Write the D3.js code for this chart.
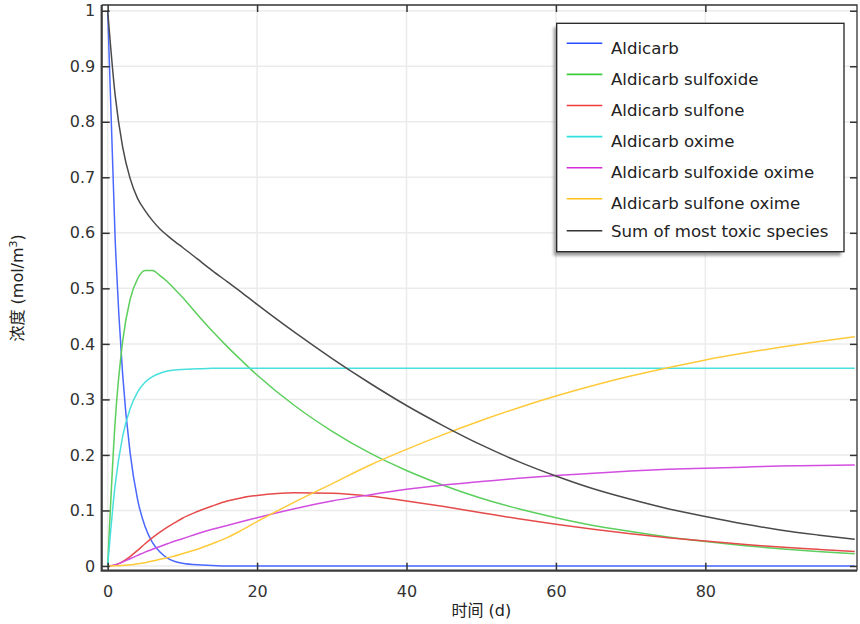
<!DOCTYPE html>
<html>
<head>
<meta charset="utf-8">
<script src="https://cdn.jsdelivr.net/npm/d3@7"></script>
<style>
  body { margin: 0; background: #fff; }
  svg { display: block; font-family: "DejaVu Sans", "Noto Sans CJK SC", sans-serif; }
</style>
</head>
<body>
<div id="chart"></div>
<script>
// time in days
const times = [0, 1, 2, 3, 4, 5, 6, 7, 8, 9, 10, 12, 14, 16, 18, 20, 25, 30, 35, 40, 45, 50, 55, 60, 65, 70, 75, 80, 85, 90, 95, 100];

// concentrations (mol/m3)
const aldicarb = [1, 0.589, 0.346, 0.204, 0.12, 0.071, 0.042, 0.025, 0.014, 0.008, 0.005, 0.002, 0.001, 0, 0, 0, 0, 0, 0, 0, 0, 0, 0, 0, 0, 0, 0, 0, 0, 0, 0, 0];
const sulfoxide = [0, 0.26, 0.404, 0.48, 0.517, 0.532, 0.532, 0.523, 0.512, 0.498, 0.484, 0.453, 0.423, 0.395, 0.369, 0.344, 0.289, 0.243, 0.204, 0.172, 0.145, 0.122, 0.103, 0.087, 0.073, 0.062, 0.052, 0.044, 0.037, 0.031, 0.026, 0.022];
const sulfone = [0, 0.002, 0.008, 0.017, 0.028, 0.04, 0.051, 0.061, 0.07, 0.078, 0.086, 0.098, 0.108, 0.117, 0.123, 0.127, 0.132, 0.131, 0.126, 0.117, 0.107, 0.096, 0.085, 0.075, 0.066, 0.058, 0.051, 0.045, 0.039, 0.034, 0.03, 0.026];
const oxime = [0, 0.146, 0.233, 0.283, 0.313, 0.331, 0.341, 0.347, 0.351, 0.353, 0.354, 0.355, 0.356, 0.356, 0.356, 0.356, 0.356, 0.356, 0.356, 0.356, 0.356, 0.356, 0.356, 0.356, 0.356, 0.356, 0.356, 0.356, 0.356, 0.356, 0.356, 0.356];
const sulfoxideOxime = [0, 0.002, 0.007, 0.013, 0.019, 0.025, 0.03, 0.035, 0.04, 0.045, 0.049, 0.058, 0.066, 0.073, 0.08, 0.087, 0.103, 0.117, 0.128, 0.138, 0.146, 0.152, 0.158, 0.163, 0.167, 0.171, 0.174, 0.176, 0.178, 0.18, 0.181, 0.182];
const sulfoneOxime = [0, 0.0002, 0.001, 0.002, 0.004, 0.006, 0.009, 0.012, 0.015, 0.018, 0.022, 0.03, 0.04, 0.051, 0.065, 0.08, 0.115, 0.148, 0.181, 0.21, 0.237, 0.262, 0.285, 0.306, 0.325, 0.342, 0.357, 0.371, 0.383, 0.394, 0.404, 0.413];
const toxicSum = [1, 0.848, 0.755, 0.698, 0.662, 0.64, 0.622, 0.607, 0.595, 0.584, 0.574, 0.553, 0.532, 0.512, 0.492, 0.471, 0.421, 0.374, 0.33, 0.289, 0.252, 0.218, 0.188, 0.162, 0.139, 0.12, 0.103, 0.089, 0.076, 0.065, 0.056, 0.048];

const seriesNames = [
  "Aldicarb",
  "Aldicarb sulfoxide",
  "Aldicarb sulfone",
  "Aldicarb oxime",
  "Aldicarb sulfoxide oxime",
  "Aldicarb sulfone oxime",
  "Sum of most toxic species"];

const seriesValues = [aldicarb, sulfoxide, sulfone, oxime, sulfoxideOxime, sulfoneOxime, toxicSum];
const seriesColors = ["#4a68ff", "#5ccf5c", "#e54b4b", "#48e0dc", "#d24ee0", "#ffca3a", "#4a4a4a"];
const legendColors = ["#2a4cff", "#3ccc3c", "#ee3a3a", "#2ee0e0", "#d62ad6", "#ffbf1a", "#333333"];

const xTicks = [0, 20, 40, 60, 80];
const yTicks = [0, 0.1, 0.2, 0.3, 0.4, 0.5, 0.6, 0.7, 0.8, 0.9, 1];

const width = 860;
const height = 624;
const plotLeft = 101.7, plotRight = 857, plotTop = 5, plotBottom = 570.7;

const x = d3.scaleLinear().domain([-0.8, 100.3]).range([plotLeft, plotRight]);
const y = d3.scaleLinear().domain([-0.0085, 1.0103]).range([plotBottom, plotTop]);

const svg = d3.select("#chart").append("svg")
  .attr("width", width)
  .attr("height", height);

// grid
svg.append("g").selectAll("line").data(xTicks).enter().append("line")
  .attr("x1", d => x(d)).attr("x2", d => x(d))
  .attr("y1", plotTop).attr("y2", plotBottom)
  .attr("stroke", "#ebebeb").attr("stroke-width", 1.5);
svg.append("g").selectAll("line").data(yTicks).enter().append("line")
  .attr("x1", plotLeft).attr("x2", plotRight)
  .attr("y1", d => y(d)).attr("y2", d => y(d))
  .attr("stroke", "#ebebeb").attr("stroke-width", 1.5);

// curves
const line = d3.line()
  .x((d, i) => x(times[i]))
  .y(d => y(d))
  .curve(d3.curveMonotoneX);
const plot = svg.append("g");
seriesValues.forEach((vals, k) => {
  plot.append("path")
    .datum(vals)
    .attr("d", line)
    .attr("fill", "none")
    .attr("stroke", seriesColors[k])
    .attr("stroke-width", 1.5)
    .attr("stroke-linejoin", "round");
});

// axes, ticks pointing inward
function styleAxis(g) {
  g.select(".domain").remove();
  g.selectAll(".tick line").attr("stroke", "#333").attr("stroke-width", 1.5);
  g.selectAll(".tick text")
    .attr("fill", "#333")
    .style("font-size", "16px")
    .style("font-family", "DejaVu Sans, sans-serif");
}

svg.append("g")
  .attr("transform", `translate(${plotLeft},0)`)
  .call(d3.axisLeft(y).tickValues(yTicks).tickFormat(d3.format("~g")).tickSize(-8).tickPadding(6.5))
  .call(styleAxis);

svg.append("g")
  .attr("transform", `translate(0,${plotBottom})`)
  .call(d3.axisBottom(x).tickValues(xTicks).tickSize(-8).tickPadding(14.6))
  .call(styleAxis);

svg.append("g")
  .attr("transform", `translate(${plotRight},0)`)
  .call(d3.axisRight(y).tickValues(yTicks).tickFormat("").tickSize(-7))
  .call(styleAxis);

svg.append("g")
  .attr("transform", `translate(0,${plotTop})`)
  .call(d3.axisTop(x).tickValues(xTicks).tickFormat("").tickSize(-7))
  .call(styleAxis);

// frame
svg.append("path")
  .attr("d", `M${plotLeft},${plotTop}H${plotRight}V${plotBottom}`)
  .attr("fill", "none").attr("stroke", "#333").attr("stroke-width", 1.3);
svg.append("path")
  .attr("d", `M${plotLeft},${plotTop}V${plotBottom}H${plotRight}`)
  .attr("fill", "none").attr("stroke", "#3a3a3a").attr("stroke-width", 2.2);

// axis titles
svg.append("text")
  .attr("x", (plotLeft + plotRight) / 2 + 2)
  .attr("y", 616)
  .attr("text-anchor", "middle")
  .attr("fill", "#222")
  .style("font-size", "16px")
  .text("时间 (d)");

const yTitle = svg.append("text")
  .attr("transform", `translate(23,${(plotTop + plotBottom) / 2}) rotate(-90)`)
  .attr("text-anchor", "middle")
  .attr("fill", "#222")
  .style("font-size", "16px");
yTitle.append("tspan").text("浓度 (mol/m");
yTitle.append("tspan").attr("dy", -6).style("font-size", "11px").text("3");
yTitle.append("tspan").attr("dy", 6).text(")");

// legend
const defs = svg.append("defs");
defs.append("filter").attr("id", "shadow")
  .attr("x", "-10%").attr("y", "-10%").attr("width", "120%").attr("height", "120%")
  .append("feGaussianBlur").attr("stdDeviation", 1.5);

const lx = 556.7, ly = 23.3, lw = 287.3, lh = 228.4;
svg.append("rect")
  .attr("x", lx - 3).attr("y", ly + 4)
  .attr("width", lw).attr("height", lh)
  .attr("fill", "#9a9a9a")
  .attr("filter", "url(#shadow)");
svg.append("rect")
  .attr("x", lx).attr("y", ly)
  .attr("width", lw).attr("height", lh)
  .attr("fill", "#fff")
  .attr("stroke", "#222").attr("stroke-width", 1.3);

const legend = svg.append("g");
seriesNames.forEach((name, i) => {
  const lineY = i < 6 ? 43.3 + 31.1 * i : 230.7;
  const textY = i < 6 ? lineY + 10.5 : 236.7;
  legend.append("line")
    .attr("x1", 566.7).attr("x2", 602.3)
    .attr("y1", lineY).attr("y2", lineY)
    .attr("stroke", legendColors[i]).attr("stroke-width", 1.6);
  legend.append("text")
    .attr("x", 611)
    .attr("y", textY)
    .attr("fill", "#222")
    .style("font-size", "16.6px")
    .text(name);
});
</script>
</body>
</html>
